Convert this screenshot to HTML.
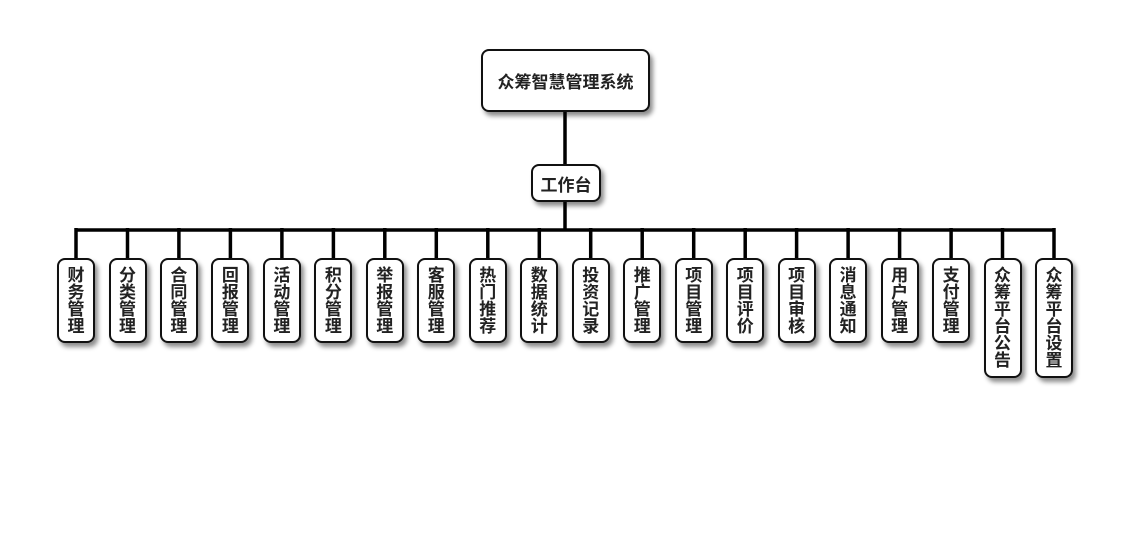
<!DOCTYPE html>
<html>
<head>
<meta charset="utf-8">
<style>
html,body{margin:0;padding:0;background:#fff;}
body{width:1130px;height:560px;position:relative;overflow:hidden;font-family:"Liberation Sans","Noto Sans CJK SC",sans-serif;}
.box{position:absolute;box-sizing:border-box;border:2px solid #111;border-radius:8px;background:#fff;box-shadow:3px 4px 5px rgba(0,0,0,0.45);color:#222;font-weight:bold;display:flex;align-items:center;justify-content:center;}
.leaf{width:38px;top:258px;font-size:17px;line-height:17px;text-align:center;flex-direction:column;}
.leaf span{display:block;}
svg{position:absolute;left:0;top:0;}
</style>
</head>
<body>
<svg width="1130" height="560">
<g stroke="#000" stroke-width="3.5" fill="none">
<line x1="565" y1="110" x2="565" y2="166"/>
<line x1="565" y1="200" x2="565" y2="230"/>
<line x1="76" y1="230" x2="1054" y2="230"/>
<line x1="76.0" y1="228" x2="76.0" y2="260"/>
<line x1="127.5" y1="228" x2="127.5" y2="260"/>
<line x1="178.9" y1="228" x2="178.9" y2="260"/>
<line x1="230.4" y1="228" x2="230.4" y2="260"/>
<line x1="281.9" y1="228" x2="281.9" y2="260"/>
<line x1="333.4" y1="228" x2="333.4" y2="260"/>
<line x1="384.8" y1="228" x2="384.8" y2="260"/>
<line x1="436.3" y1="228" x2="436.3" y2="260"/>
<line x1="487.8" y1="228" x2="487.8" y2="260"/>
<line x1="539.3" y1="228" x2="539.3" y2="260"/>
<line x1="590.7" y1="228" x2="590.7" y2="260"/>
<line x1="642.2" y1="228" x2="642.2" y2="260"/>
<line x1="693.7" y1="228" x2="693.7" y2="260"/>
<line x1="745.2" y1="228" x2="745.2" y2="260"/>
<line x1="796.6" y1="228" x2="796.6" y2="260"/>
<line x1="848.1" y1="228" x2="848.1" y2="260"/>
<line x1="899.6" y1="228" x2="899.6" y2="260"/>
<line x1="951.1" y1="228" x2="951.1" y2="260"/>
<line x1="1002.5" y1="228" x2="1002.5" y2="260"/>
<line x1="1054.0" y1="228" x2="1054.0" y2="260"/>
</g>
</svg>

<div class="box" style="left:481px;top:49px;width:169px;height:63px;font-size:17px;">众筹智慧管理系统</div>
<div class="box" style="left:531px;top:164px;width:70px;height:38px;font-size:17px;">工作台</div>

<div class="box leaf" style="left:57.0px;height:85px;"><span>财</span><span>务</span><span>管</span><span>理</span></div>
<div class="box leaf" style="left:108.5px;height:85px;"><span>分</span><span>类</span><span>管</span><span>理</span></div>
<div class="box leaf" style="left:159.9px;height:85px;"><span>合</span><span>同</span><span>管</span><span>理</span></div>
<div class="box leaf" style="left:211.4px;height:85px;"><span>回</span><span>报</span><span>管</span><span>理</span></div>
<div class="box leaf" style="left:262.9px;height:85px;"><span>活</span><span>动</span><span>管</span><span>理</span></div>
<div class="box leaf" style="left:314.4px;height:85px;"><span>积</span><span>分</span><span>管</span><span>理</span></div>
<div class="box leaf" style="left:365.8px;height:85px;"><span>举</span><span>报</span><span>管</span><span>理</span></div>
<div class="box leaf" style="left:417.3px;height:85px;"><span>客</span><span>服</span><span>管</span><span>理</span></div>
<div class="box leaf" style="left:468.8px;height:85px;"><span>热</span><span>门</span><span>推</span><span>荐</span></div>
<div class="box leaf" style="left:520.3px;height:85px;"><span>数</span><span>据</span><span>统</span><span>计</span></div>
<div class="box leaf" style="left:571.7px;height:85px;"><span>投</span><span>资</span><span>记</span><span>录</span></div>
<div class="box leaf" style="left:623.2px;height:85px;"><span>推</span><span>广</span><span>管</span><span>理</span></div>
<div class="box leaf" style="left:674.7px;height:85px;"><span>项</span><span>目</span><span>管</span><span>理</span></div>
<div class="box leaf" style="left:726.2px;height:85px;"><span>项</span><span>目</span><span>评</span><span>价</span></div>
<div class="box leaf" style="left:777.6px;height:85px;"><span>项</span><span>目</span><span>审</span><span>核</span></div>
<div class="box leaf" style="left:829.1px;height:85px;"><span>消</span><span>息</span><span>通</span><span>知</span></div>
<div class="box leaf" style="left:880.6px;height:85px;"><span>用</span><span>户</span><span>管</span><span>理</span></div>
<div class="box leaf" style="left:932.1px;height:85px;"><span>支</span><span>付</span><span>管</span><span>理</span></div>
<div class="box leaf" style="left:983.5px;height:120px;"><span>众</span><span>筹</span><span>平</span><span>台</span><span>公</span><span>告</span></div>
<div class="box leaf" style="left:1035.0px;height:120px;"><span>众</span><span>筹</span><span>平</span><span>台</span><span>设</span><span>置</span></div>
</body>
</html>
